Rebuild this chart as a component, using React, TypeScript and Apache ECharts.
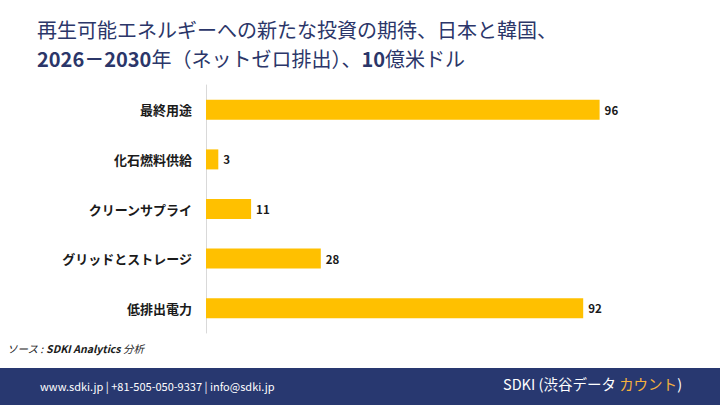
import React, { useEffect, useRef } from "react";
import * as echarts from "echarts";

const categories = ["最終用途", "化石燃料供給", "クリーンサプライ", "グリッドとストレージ", "低排出電力"];
const values = [96, 3, 11, 28, 92];

const FONT = "'Noto Sans CJK JP', 'Noto Sans', sans-serif";

export default function App() {
  const ref = useRef<HTMLDivElement>(null);
  useEffect(() => {
    if (!ref.current) return;
    const chart = echarts.init(ref.current, null, { renderer: "svg" });
    chart.setOption({
      animation: false,
      backgroundColor: "#ffffff",
      grid: { left: 206, top: 85, width: 410, height: 248, containLabel: false },
      xAxis: {
        type: "value",
        min: 0,
        max: 100,
        show: false,
      },
      yAxis: {
        type: "category",
        data: categories,
        inverse: true,
        axisLine: { show: true, lineStyle: { color: "#d9d9d9", width: 1 } },
        axisTick: { show: false },
        axisLabel: {
          color: "#1a1a1a",
          fontSize: 13,
          fontWeight: "bold",
          fontFamily: FONT,
          margin: 14,
        },
      },
      series: [
        {
          type: "bar",
          data: values,
          barWidth: 20,
          itemStyle: { color: "#FFC000" },
          label: {
            show: true,
            position: "right",
            distance: 5,
            color: "#1a1a1a",
            fontSize: 11.5,
            fontWeight: "bold",
            fontFamily: FONT,
          },
        },
      ],
      graphic: [
        {
          type: "text",
          left: 37,
          top: 19,
          style: {
            text: "再生可能エネルギーへの新たな投資の期待、日本と韓国、",
            font: `normal 20px ${FONT}`,
            fill: "#2b3669",
          },
        },
        {
          type: "text",
          left: 37,
          top: 48,
          style: {
            text: "{b|2026－2030}{n|年（ネットゼロ排出）、}{b|10}{n|億米ドル}",
            rich: {
              b: { font: `bold 20px ${FONT}`, fill: "#2b3669" },
              n: { font: `normal 20px ${FONT}`, fill: "#2b3669" },
            },
          },
        },
        {
          type: "text",
          left: 7,
          top: 343,
          style: {
            text: "{n|ソース : }{b|SDKI Analytics }{n|分析}",
            rich: {
              n: { font: `italic 10.5px ${FONT}`, fill: "#1a1a1a" },
              b: { font: `italic bold 10.5px ${FONT}`, fill: "#1a1a1a" },
            },
          },
        },
        {
          type: "rect",
          left: 0,
          top: 368,
          shape: { width: 720, height: 37 },
          style: { fill: "#283870" },
        },
        {
          type: "text",
          left: 40,
          top: 380,
          style: {
            text: "www.sdki.jp | +81-505-050-9337 | info@sdki.jp",
            font: `11px ${FONT}`,
            fill: "#ffffff",
          },
        },
        {
          type: "text",
          left: 503,
          top: 376,
          style: {
            text: "{w|SDKI (渋谷データ }{o|カウント}{w|)}",
            rich: {
              w: { font: `14.5px ${FONT}`, fill: "#ffffff" },
              o: { font: `14.5px ${FONT}`, fill: "#f5b13d" },
            },
          },
        },
      ],
    });
    return () => chart.dispose();
  }, []);
  return <div ref={ref} style={{ position: "fixed", left: 0, top: 0, width: 720, height: 405 }} />;
}
